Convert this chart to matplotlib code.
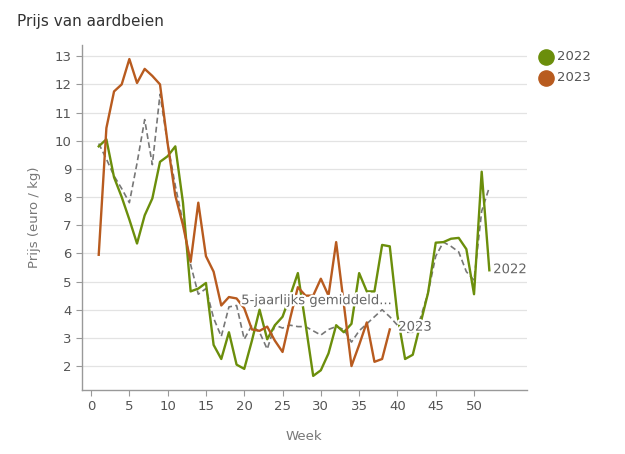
import numpy as np
import matplotlib
matplotlib.use("Agg")
import matplotlib.pyplot as plt
import matplotlib.patheffects as pe

# strawberry prices, euro per kg, by week
weeks_2022 = np.arange(1, 53)
prijs_2022 = [9.8, 10.05, 8.7, 8.0, 7.2, 6.35, 7.35, 7.95, 9.25, 9.45,
              9.8, 7.8, 4.65, 4.75, 4.95, 2.75, 2.25, 3.2, 2.05, 1.9,
              2.9, 4.0, 2.95, 3.45, 3.75, 4.5, 5.3, 3.5, 1.65, 1.85,
              2.45, 3.45, 3.2, 3.5, 5.3, 4.65, 4.65, 6.3, 6.25, 3.8,
              2.25, 2.4, 3.5, 4.6, 6.38, 6.4, 6.52, 6.55, 6.15, 4.55,
              8.9, 5.4]

weeks_2023 = np.arange(1, 40)
prijs_2023 = [5.95, 10.45, 11.75, 12.0, 12.9, 12.05, 12.55, 12.3, 12.0, 9.9,
              8.05, 7.0, 5.7, 7.8, 5.9, 5.35, 4.15, 4.45, 4.4, 4.05,
              3.3, 3.25, 3.4, 2.9, 2.5, 3.7, 4.8, 4.5, 4.5, 5.1,
              4.5, 6.4, 4.2, 2.0, 2.75, 3.55, 2.15, 2.25, 3.3]

weeks_gem = np.arange(1, 53)
prijs_gem = [9.9, 9.35, 8.75, 8.3, 7.8, 9.2, 10.75, 9.15, 11.65, 9.9,
             8.4, 7.1, 5.6, 4.55, 4.75, 3.7, 3.05, 4.1, 4.15, 2.95,
             3.45, 3.2, 2.6, 3.45, 3.35, 3.45, 3.4, 3.4, 3.25, 3.1,
             3.3, 3.4, 3.3, 2.85, 3.25, 3.5, 3.75, 4.0, 3.75, 3.45,
             3.2, 3.2, 3.7, 4.6, 5.9, 6.4, 6.25, 6.05, 5.35, 5.05,
             7.5, 8.35]

groen = "#6b8e0b"
oranje = "#b85b1f"
grijs = "#777777"
tekst = "#555555"

fig = plt.figure(figsize=(6.25, 4.54), dpi=100)
ax = fig.add_axes([0.131, 0.141, 0.712, 0.760])

halo = [pe.withStroke(linewidth=3, foreground="white")]

ax.plot(weeks_gem, prijs_gem, color=grijs, lw=1.2, ls=(0, (3.5, 2)), zorder=3)
ax.plot(weeks_2022, prijs_2022, color=groen, lw=1.7, zorder=4)
ax.plot(weeks_2023, prijs_2023, color=oranje, lw=1.7, zorder=5)

ax.text(19.6, 4.32, "5-jaarlijks gemiddeld...", color="#666666", fontsize=9.5,
        va="center", ha="left", path_effects=halo, zorder=6)
ax.text(40.1, 3.38, "2023", color="#666666", fontsize=9.5,
        va="center", ha="left", path_effects=halo, zorder=6)
ax.text(52.5, 5.42, "2022", color="#666666", fontsize=9.5,
        va="center", ha="left", path_effects=halo, zorder=6)

ax.set_xlim(-1.2, 56.9)
ax.set_ylim(1.15, 13.4)
ax.set_xticks(range(0, 51, 5))
ax.set_yticks(range(2, 14))
ax.yaxis.grid(True, color="#e3e3e3", lw=0.9)
ax.set_axisbelow(True)
for s in ["top", "right"]:
    ax.spines[s].set_visible(False)
for s in ["left", "bottom"]:
    ax.spines[s].set_color("#999999")
    ax.spines[s].set_linewidth(1.0)
ax.tick_params(colors="#999999", labelcolor=tekst, labelsize=9.5, length=4)

ax.set_xlabel("Week", color="#777777", fontsize=9.5, labelpad=12)
ax.set_ylabel("Prijs (euro / kg)", color="#777777", fontsize=9.5, labelpad=10)

fig.text(0.027, 0.953, "Prijs van aardbeien", fontsize=11, color="#333333",
         va="center", ha="left")

# legend
ax.scatter([], [], s=120, color=groen, label="2022")
ax.scatter([], [], s=120, color=oranje, label="2023")
leg = ax.legend(loc="upper left", bbox_to_anchor=(1.002, 1.0), frameon=False,
                fontsize=9.5, handletextpad=-0.15, labelspacing=0.6,
                borderaxespad=0.0)
for t in leg.get_texts():
    t.set_color(tekst)

fig.savefig("out.png", dpi=100)
